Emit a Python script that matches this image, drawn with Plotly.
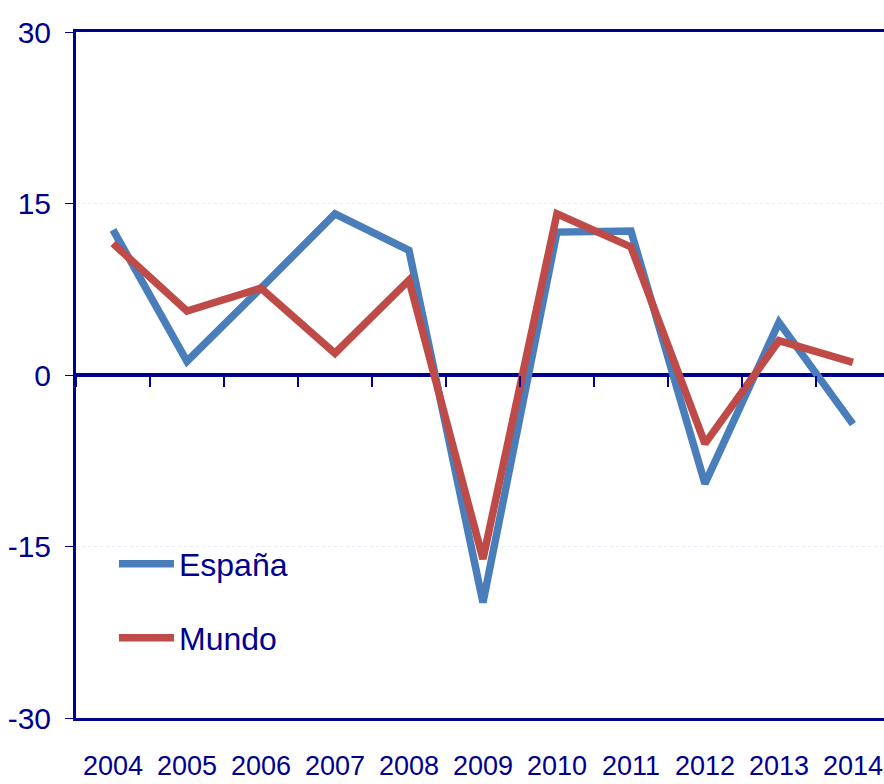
import plotly.graph_objects as go

years = ["2004", "2005", "2006", "2007", "2008", "2009",
         "2010", "2011", "2012", "2013", "2014"]
espana = [12.7, 1.2, 7.6, 14.1, 10.9, -19.9, 12.5, 12.6, -9.5, 4.6, -4.3]
mundo = [11.5, 5.6, 7.6, 1.9, 8.3, -16.1, 14.1, 11.2, -6.0, 3.0, 1.1]
y_ticks = [-30, -15, 0, 15, 30]
y_tick_text = ["-30", "-15", "0", "15", "30"]

NAVY = "#00008F"
BLUE = "#4A7EBB"
RED = "#BE4B48"
FONT = "Liberation Sans, Arial, sans-serif"

fig = go.Figure()
fig.add_trace(go.Scatter(
    x=years, y=espana, mode="lines", name="España",
    line=dict(color=BLUE, width=7.5), legend="legend",
))
fig.add_trace(go.Scatter(
    x=years, y=mundo, mode="lines", name="Mundo",
    line=dict(color=RED, width=7.5), legend="legend2",
))
# invisible carrier for the category axis drawn along y = 0
fig.add_trace(go.Scatter(
    x=years, y=[0] * len(years), xaxis="x2", mode="lines",
    line=dict(width=0, color="rgba(0,0,0,0)"), showlegend=False,
    hoverinfo="skip",
))

x_range = [-0.5, 10.42]

fig.update_layout(
    width=884, height=784,
    margin=dict(l=76, r=0, t=32, b=66),
    paper_bgcolor="white", plot_bgcolor="white",
    font=dict(family=FONT, color=NAVY, size=28),
    xaxis=dict(
        type="category", range=x_range, automargin=False,
        showline=True, linecolor=NAVY, linewidth=3, mirror=True,
        ticks="", showgrid=False, zeroline=False,
        tickangle=0, ticklabelstandoff=22,
        tickfont=dict(family=FONT, size=27, color=NAVY),
    ),
    xaxis2=dict(
        type="category", range=x_range, overlaying="x",
        anchor="free", position=0.5, automargin=False,
        showline=False, showticklabels=False, showgrid=False,
        ticks="outside", tickson="boundaries", ticklen=11,
        tickwidth=2, tickcolor=NAVY, zeroline=False,
    ),
    yaxis=dict(
        range=[-30, 30], tickvals=y_ticks, ticktext=y_tick_text,
        automargin=False,
        showline=True, linecolor=NAVY, linewidth=3,
        ticks="outside", ticklen=8, tickwidth=1, tickcolor=NAVY,
        ticklabelstandoff=8,
        showgrid=True, gridcolor="#E6ECF6", griddash="dot", gridwidth=1,
        zeroline=True, zerolinecolor=NAVY, zerolinewidth=4,
        tickfont=dict(family=FONT, size=30, color=NAVY),
    ),
    legend=dict(
        x=0.047, y=0.2245, xanchor="left", yanchor="middle",
        bgcolor="rgba(0,0,0,0)", itemwidth=55,
        font=dict(family=FONT, size=32, color=NAVY),
    ),
    legend2=dict(
        x=0.047, y=0.1166, xanchor="left", yanchor="middle",
        bgcolor="rgba(0,0,0,0)", itemwidth=55,
        font=dict(family=FONT, size=32, color=NAVY),
    ),
    showlegend=True,
)

fig.write_html("out.html")
